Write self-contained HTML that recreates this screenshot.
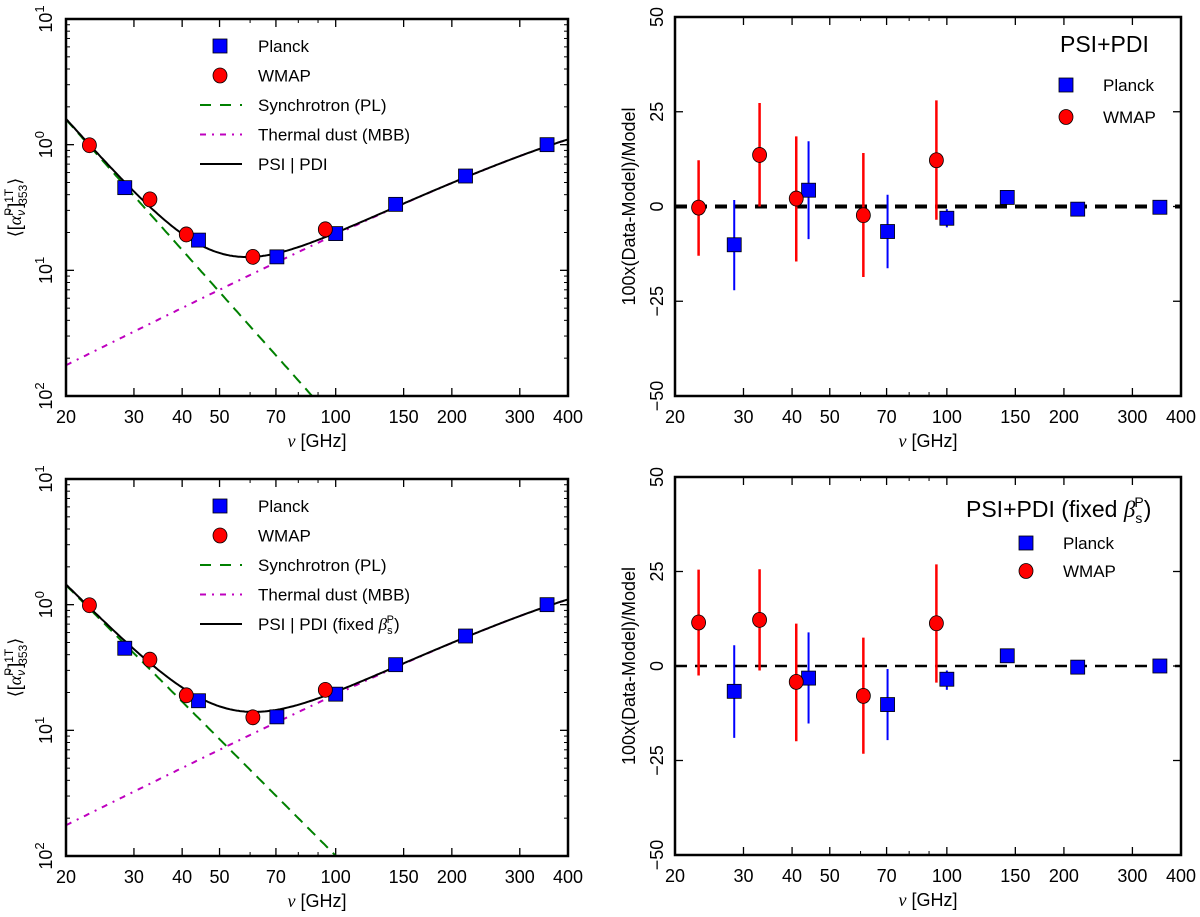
<!DOCTYPE html>
<html><head><meta charset="utf-8"><style>
html,body{margin:0;padding:0;background:#fff;width:1200px;height:917px;overflow:hidden;}
svg{display:block;font-family:"Liberation Sans",sans-serif;overflow:hidden;}
</style></head><body>
<svg id="fig" width="1200" height="917" viewBox="0 0 1200 917" xmlns="http://www.w3.org/2000/svg"></svg>
<script>
// ---- data ----
const planckFreq = [28.4, 44.1, 70.4, 100, 143, 217, 353];
const wmapFreq = [23, 33, 41, 61, 94];
const sedPlanckTop = [0.455, 0.174, 0.128, 0.196, 0.335, 0.563, 1.0];
const sedWmapTop = [0.99, 0.367, 0.193, 0.128, 0.212];
const sedPlanckBot = [0.45, 0.172, 0.128, 0.194, 0.333, 0.563, 1.0];
const sedWmapBot = [0.99, 0.365, 0.19, 0.127, 0.21];
const synchParamsTop = [0.98, -3.45]; // amplitude at 23 GHz, spectral index
const synchParamsBot = [0.93, -3.08];
const dustParams = [0.97, 1.55, 19.6]; // amplitude at 353, beta, T
const resPlanckTop = [-10.1, 4.3, -6.6, -3.1, 2.4, -0.7, -0.2];
const resPlanckTopHi = [1.7, 17.2, 3.1, -0.7, 2.4, -0.7, -0.2];
const resPlanckTopLo = [-22.1, -8.6, -16.3, -5.5, 2.4, -0.7, -0.2];
const resWmapTop = [-0.3, 13.6, 2.1, -2.3, 12.2];
const resWmapTopHi = [12.2, 27.3, 18.5, 14.1, 28];
const resWmapTopLo = [-13, 0, -14.5, -18.6, -3.5];
const resPlanckBot = [-6.7, -3.2, -10.2, -3.5, 2.7, -0.3, 0];
const resPlanckBotHi = [5.5, 8.9, -0.8, -1.2, 2.7, -0.3, 0];
const resPlanckBotLo = [-19, -15.2, -19.6, -6.3, 2.7, -0.3, 0];
const resWmapBot = [11.5, 12.2, -4.2, -7.9, 11.3];
const resWmapBotHi = [25.5, 25.6, 11.2, 7.5, 26.9];
const resWmapBotLo = [-2.5, -1.2, -19.9, -23.2, -4.4];
const xTickLabels = [20, 30, 40, 50, 70, 100, 150, 200, 300, 400];
const xMinorTicks = [60, 80, 90];
const resTicks = [50, 25, 0, -25, -50];

const NS = "http://www.w3.org/2000/svg";
const svg = document.getElementById('fig');
function el(tag, attrs, parent, txt) {
  const e = document.createElementNS(NS, tag);
  for (const k in attrs) e.setAttribute(k, attrs[k]);
  if (txt !== undefined) e.textContent = txt;
  (parent || svg).appendChild(e);
  return e;
}
function synch(nu, p) { return p[0] * Math.pow(nu / 23, p[1]); }
function dust(nu, p) {
  const x = 0.048 * nu / p[2], x0 = 0.048 * 353 / p[2];
  return p[0] * Math.pow(nu / 353, p[1] + 1) * (Math.exp(x0) - 1) / (Math.exp(x) - 1);
}

function panel(box, name) {
  const g = el('g', {});
  
  
  const L = box.l, R = box.r, T = box.t, B = box.b;
  const sx = v => L + (Math.log(v) - Math.log(20)) / (Math.log(400) - Math.log(20)) * (R - L);
  const cid = name + '-clip';
  const cp = el('clipPath', { id: cid }, g);
  el('rect', { x: L, y: T, width: R - L, height: B - T }, cp);
  xTickLabels.forEach(v => {
    const x = sx(v);
    if (v !== 20 && v !== 400) {
      el('line', { x1: x, y1: B, x2: x, y2: B - 8, stroke: '#000', 'stroke-width': 1.3 }, g);
      el('line', { x1: x, y1: T, x2: x, y2: T + 8, stroke: '#000', 'stroke-width': 1.3 }, g);
    }
    const t = el('text', { x: x, y: B + 27, 'font-size': 18, 'text-anchor': 'middle' }, g, String(v));
    
    
  });
  xMinorTicks.forEach(v => {
    const x = sx(v);
    el('line', { x1: x, y1: B, x2: x, y2: B - 4, stroke: '#000', 'stroke-width': 1 }, g);
    el('line', { x1: x, y1: T, x2: x, y2: T + 4, stroke: '#000', 'stroke-width': 1 }, g);
  });
  const xt = el('text', { x: (L + R) / 2, y: B + 51, 'font-size': 18, 'text-anchor': 'middle' }, g);
  
  
  el('tspan', { 'font-style': 'italic', 'font-family': 'Liberation Serif, serif' }, xt, 'ν');
  el('tspan', {}, xt, ' [GHz]');
  return { g, sx, cid, L, R, T, B };
}

function square(g, x, y, name) {
  const r = el('rect', { x: x - 7, y: y - 7, width: 14, height: 14, fill: '#0000ff', stroke: '#000', 'stroke-width': 0.8 }, g);
  
  
}
function circle(g, x, y, name) {
  const c = el('ellipse', { cx: x, cy: y, rx: 7, ry: 7.5, fill: '#ff0000', stroke: '#000', 'stroke-width': 0.8 }, g);
  
  
}

function sedPanel(box, name, planck, wmap, sp, legendTotal) {
  const P = panel(box, name);
  const g = P.g;
  const sy = v => P.B - (Math.log10(v) + 2) / 3 * (P.B - P.T);
  for (let d = -2; d <= 1; d++) {
    const y = sy(Math.pow(10, d));
    el('line', { x1: P.L, y1: y, x2: P.L + 8, y2: y, stroke: '#000', 'stroke-width': 1.3 }, g);
    el('line', { x1: P.R, y1: y, x2: P.R - 8, y2: y, stroke: '#000', 'stroke-width': 1.3 }, g);
    const t = el('text', { transform: `translate(${P.L - 14},${y}) rotate(-90)`, 'font-size': 18, 'text-anchor': 'middle' }, g);
    
    
    el('tspan', {}, t, '10');
    el('tspan', { dy: -8, 'font-size': 13 }, t, d < 0 ? String(-d) : String(d));
    if (d < 1) for (let m = 2; m <= 9; m++) {
      const ym = sy(m * Math.pow(10, d));
      el('line', { x1: P.L, y1: ym, x2: P.L + 4, y2: ym, stroke: '#000', 'stroke-width': 1 }, g);
      el('line', { x1: P.R, y1: ym, x2: P.R - 4, y2: ym, stroke: '#000', 'stroke-width': 1 }, g);
    }
  }
  const yt = el('text', { transform: `translate(${P.L - 45},${(P.T + P.B) / 2}) rotate(-90)`, 'font-size': 18, 'text-anchor': 'middle' }, g);
  
  
  el('tspan', {}, yt, '⟨[');
  el('tspan', { 'font-style': 'italic', 'font-family': 'Liberation Serif, serif' }, yt, 'α̃');
  el('tspan', { 'font-size': 12, dy: 4, 'font-style': 'italic' }, yt, 'ν');
  el('tspan', { 'font-size': 12, dy: -12, dx: -6 }, yt, 'P');
  el('tspan', { dy: 8 }, yt, ']');
  el('tspan', { 'font-size': 12, dy: -8 }, yt, '1T');
  el('tspan', { 'font-size': 12, dy: 14, dx: -16 }, yt, '353');
  el('tspan', { dy: -6 }, yt, '⟩');
  const cg = el('g', { 'clip-path': `url(#${P.cid})` }, g);
  let ds = '', dd = '', dt = '';
  for (let i = 0; i <= 300; i++) {
    const nu = 20 * Math.pow(20, i / 300);
    const x = P.sx(nu), s = synch(nu, sp), d = dust(nu, dustParams);
    const c = i ? 'L' : 'M';
    ds += c + x.toFixed(1) + ',' + sy(s).toFixed(1);
    dd += c + x.toFixed(1) + ',' + sy(d).toFixed(1);
    dt += c + x.toFixed(1) + ',' + sy(s + d).toFixed(1);
  }
  const l1 = el('path', { d: ds, fill: 'none', stroke: '#008000', 'stroke-width': 2, 'stroke-dasharray': '11,7' }, cg);
  
  
  const l2 = el('path', { d: dd, fill: 'none', stroke: '#bf00bf', 'stroke-width': 2, 'stroke-dasharray': '6,6,2,6' }, cg);
  
  
  const l3 = el('path', { d: dt, fill: 'none', stroke: '#000', 'stroke-width': 2 }, cg);
  
  
  planckFreq.forEach((f, i) => square(g, P.sx(f), sy(planck[i]), 'planck-point'));
  wmapFreq.forEach((f, i) => {
    el('line', { x1: P.sx(f), y1: sy(wmap[i] * 1.1), x2: P.sx(f), y2: sy(wmap[i] / 1.1), stroke: '#ff0000', 'stroke-width': 2 }, g);
    circle(g, P.sx(f), sy(wmap[i]), 'wmap-point');
  });
  const lg = el('g', {}, g);
  
  
  const lx = P.L + 134, tx = P.L + 192, y0 = P.T + 27, dy = 29.5;
  square(lg, P.L + 154, y0, 'legend-planck-marker');
  circle(lg, P.L + 154, y0 + dy, 'legend-wmap-marker');
  el('line', { x1: lx, y1: y0 + 2 * dy, x2: lx + 42, y2: y0 + 2 * dy, stroke: '#008000', 'stroke-width': 2, 'stroke-dasharray': '11,9' }, lg);
  el('line', { x1: lx, y1: y0 + 3 * dy, x2: lx + 42, y2: y0 + 3 * dy, stroke: '#bf00bf', 'stroke-width': 2, 'stroke-dasharray': '6,6,2,6' }, lg);
  el('line', { x1: lx, y1: y0 + 4 * dy, x2: lx + 42, y2: y0 + 4 * dy, stroke: '#000', 'stroke-width': 2 }, lg);
  const labels = ['Planck', 'WMAP', 'Synchrotron (PL)', 'Thermal dust (MBB)'];
  labels.forEach((s, i) => el('text', { x: tx, y: y0 + i * dy + 6, 'font-size': 17 }, lg, s));
  const tl = el('text', { x: tx, y: y0 + 4 * dy + 6, 'font-size': 17 }, lg, 'PSI | PDI');
  if (legendTotal) {
    el('tspan', {}, tl, ' (fixed ');
    el('tspan', { 'font-style': 'italic', 'font-family': 'Liberation Serif, serif' }, tl, 'β');
    el('tspan', { 'font-size': 11, dy: 4 }, tl, 's');
    el('tspan', { 'font-size': 11, dy: -11, dx: -6 }, tl, 'P');
    el('tspan', { dy: 7 }, tl, ')');
  }
  el('rect', { x: P.L, y: P.T, width: P.R - P.L, height: P.B - P.T, fill: 'none', stroke: '#000', 'stroke-width': 2.5 }, g);
}

function resPanel(box, name, pv, phi, plo, wv, whi, wlo, zeroW, fixed) {
  const P = panel(box, name);
  const g = P.g;
  const sy = v => P.B - (v + 50) / 100 * (P.B - P.T);
  resTicks.forEach(v => {
    const y = sy(v);
    el('line', { x1: P.L, y1: y, x2: P.L + 8, y2: y, stroke: '#000', 'stroke-width': 1.3 }, g);
    el('line', { x1: P.R, y1: y, x2: P.R - 8, y2: y, stroke: '#000', 'stroke-width': 1.3 }, g);
    const t = el('text', { transform: `translate(${P.L - 12},${y}) rotate(-90)`, 'font-size': 18, 'text-anchor': 'middle' }, g, v < 0 ? '−' + (-v) : String(v));
    
    
  });
  const yt = el('text', { transform: `translate(${P.L - 40},${(P.T + P.B) / 2}) rotate(-90)`, 'font-size': 18, 'text-anchor': 'middle' }, g, '100x(Data-Model)/Model');
  
  
  const z = el('line', { x1: P.L, y1: sy(0), x2: P.R, y2: sy(0), stroke: '#000', 'stroke-width': zeroW, 'stroke-dasharray': '12,8' }, g);
  
  
  planckFreq.forEach((f, i) => {
    el('line', { x1: P.sx(f), y1: sy(phi[i]), x2: P.sx(f), y2: sy(plo[i]), stroke: '#0000ff', 'stroke-width': 2 }, g);
  });
  wmapFreq.forEach((f, i) => {
    el('line', { x1: P.sx(f), y1: sy(whi[i]), x2: P.sx(f), y2: sy(wlo[i]), stroke: '#ff0000', 'stroke-width': 2.5 }, g);
  });
  planckFreq.forEach((f, i) => square(g, P.sx(f), sy(pv[i]), 'planck-residual'));
  wmapFreq.forEach((f, i) => circle(g, P.sx(f), sy(wv[i]), 'wmap-residual'));
  const lg = el('g', {}, g);
  
  
  if (!fixed) {
    el('text', { x: 1060, y: 52, 'font-size': 23 }, lg, 'PSI+PDI');
    square(lg, 1066, 85, 'legend-planck-marker');
    circle(lg, 1066, 117, 'legend-wmap-marker');
    el('text', { x: 1103, y: 91, 'font-size': 17 }, lg, 'Planck');
    el('text', { x: 1103, y: 123, 'font-size': 17 }, lg, 'WMAP');
  } else {
    const t = el('text', { x: 966, y: 517, 'font-size': 23 }, lg, 'PSI+PDI (fixed ');
    el('tspan', { 'font-style': 'italic', 'font-family': 'Liberation Serif, serif' }, t, 'β');
    el('tspan', { 'font-size': 14, dy: 6 }, t, 's');
    el('tspan', { 'font-size': 14, dy: -16, dx: -8 }, t, 'P');
    el('tspan', { dy: 10 }, t, ')');
    square(lg, 1026, 543, 'legend-planck-marker');
    circle(lg, 1026, 571, 'legend-wmap-marker');
    el('text', { x: 1063, y: 549, 'font-size': 17 }, lg, 'Planck');
    el('text', { x: 1063, y: 577, 'font-size': 17 }, lg, 'WMAP');
  }
  el('rect', { x: P.L, y: P.T, width: P.R - P.L, height: P.B - P.T, fill: 'none', stroke: '#000', 'stroke-width': 2.5 }, g);
}

sedPanel({ l: 66, r: 568, t: 19, b: 396 }, 'sed-panel-top', sedPlanckTop, sedWmapTop, synchParamsTop, false);
resPanel({ l: 675, r: 1181, t: 17, b: 396 }, 'residual-panel-top', resPlanckTop, resPlanckTopHi, resPlanckTopLo, resWmapTop, resWmapTopHi, resWmapTopLo, 4, false);
sedPanel({ l: 66, r: 568, t: 479, b: 856 }, 'sed-panel-bottom', sedPlanckBot, sedWmapBot, synchParamsBot, true);
resPanel({ l: 675, r: 1181, t: 477, b: 855 }, 'residual-panel-bottom', resPlanckBot, resPlanckBotHi, resPlanckBotLo, resWmapBot, resWmapBotHi, resWmapBotLo, 2.5, true);
</script>
</body></html>
